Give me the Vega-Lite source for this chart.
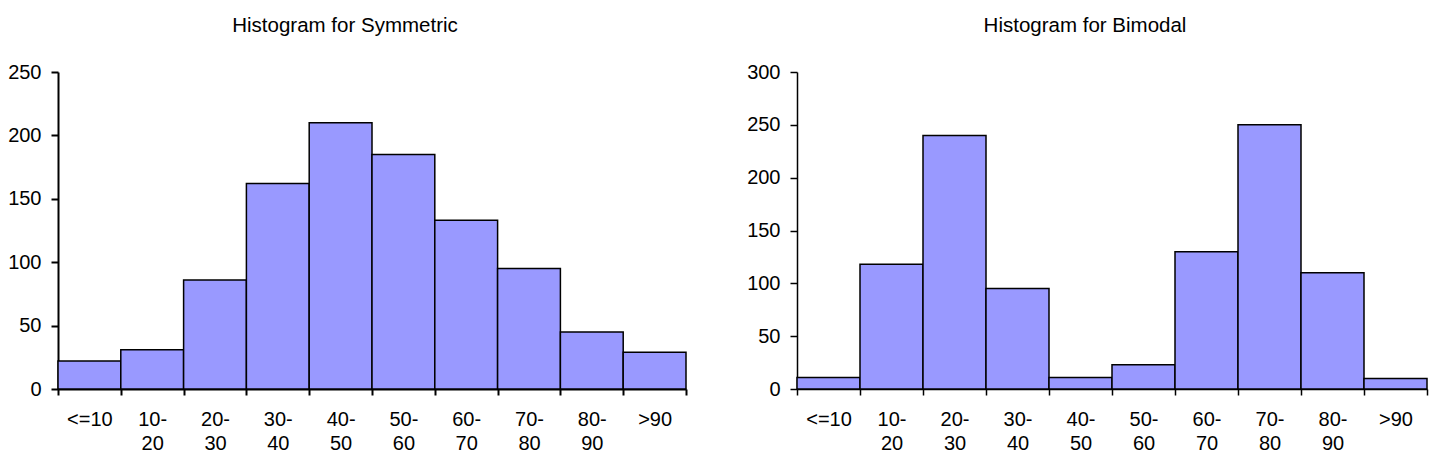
{
  "$schema": "https://vega.github.io/schema/vega-lite/v6.json",
  "padding": {"left": 7, "top": 15, "right": 12, "bottom": 5},
  "spacing": 59,
  "config": {
    "view": {"stroke": null},
    "font": "Liberation Sans",
    "title": {"font": "Liberation Sans", "fontSize": 20.5, "fontWeight": "normal", "color": "#000000", "offset": 26, "anchor": "middle"},
    "axis": {"labelFont": "Liberation Sans", "labelFontSize": 20, "labelColor": "#000000", "domainColor": "#000000", "tickColor": "#000000", "grid": false, "title": null}
  },
  "hconcat": [
    {
      "title": {"text": "Histogram for Symmetric", "dx": -27},
      "width": 628,
      "height": 317,
      "data": {"values": [
        {"bin": "<=10", "count": 22},
        {"bin": "10-20", "count": 31},
        {"bin": "20-30", "count": 86},
        {"bin": "30-40", "count": 162},
        {"bin": "40-50", "count": 210},
        {"bin": "50-60", "count": 185},
        {"bin": "60-70", "count": 133},
        {"bin": "70-80", "count": 95},
        {"bin": "80-90", "count": 45},
        {"bin": ">90", "count": 29}
      ]},
      "mark": {"type": "bar", "fill": "#9999ff", "stroke": "#000000", "strokeWidth": 1.5},
      "encoding": {
        "x": {"field": "bin", "type": "nominal", "sort": null,
          "scale": {"paddingInner": 0, "paddingOuter": 0},
          "axis": {"labelAngle": 0, "tickBand": "extent", "tickSize": 6, "tickWidth": 2, "domainWidth": 2, "labelPadding": 14, "labelLineHeight": 24,
            "labelExpr": "indexof(datum.label,'-') > 0 ? [slice(datum.label,0,indexof(datum.label,'-')+1), slice(datum.label,indexof(datum.label,'-')+1)] : datum.label"}},
        "y": {"field": "count", "type": "quantitative",
          "scale": {"domain": [0, 250], "nice": false},
          "axis": {"values": [0, 50, 100, 150, 200, 250], "tickSize": 7, "tickWidth": 2, "domainWidth": 2, "labelPadding": 10}}
      }
    },
    {
      "title": {"text": "Histogram for Bimodal", "dx": -27},
      "width": 630,
      "height": 317,
      "data": {"values": [
        {"bin": "<=10", "count": 11},
        {"bin": "10-20", "count": 118},
        {"bin": "20-30", "count": 240},
        {"bin": "30-40", "count": 95},
        {"bin": "40-50", "count": 11},
        {"bin": "50-60", "count": 23},
        {"bin": "60-70", "count": 130},
        {"bin": "70-80", "count": 250},
        {"bin": "80-90", "count": 110},
        {"bin": ">90", "count": 10}
      ]},
      "mark": {"type": "bar", "fill": "#9999ff", "stroke": "#000000", "strokeWidth": 1.5},
      "encoding": {
        "x": {"field": "bin", "type": "nominal", "sort": null,
          "scale": {"paddingInner": 0, "paddingOuter": 0},
          "axis": {"labelAngle": 0, "tickBand": "extent", "tickSize": 6, "tickWidth": 1.5, "domainWidth": 1.5, "labelPadding": 14, "labelLineHeight": 24,
            "labelExpr": "indexof(datum.label,'-') > 0 ? [slice(datum.label,0,indexof(datum.label,'-')+1), slice(datum.label,indexof(datum.label,'-')+1)] : datum.label"}},
        "y": {"field": "count", "type": "quantitative",
          "scale": {"domain": [0, 300], "nice": false},
          "axis": {"values": [0, 50, 100, 150, 200, 250, 300], "tickSize": 7, "tickWidth": 1.5, "domainWidth": 1.5, "labelPadding": 10}}
      }
    }
  ]
}
